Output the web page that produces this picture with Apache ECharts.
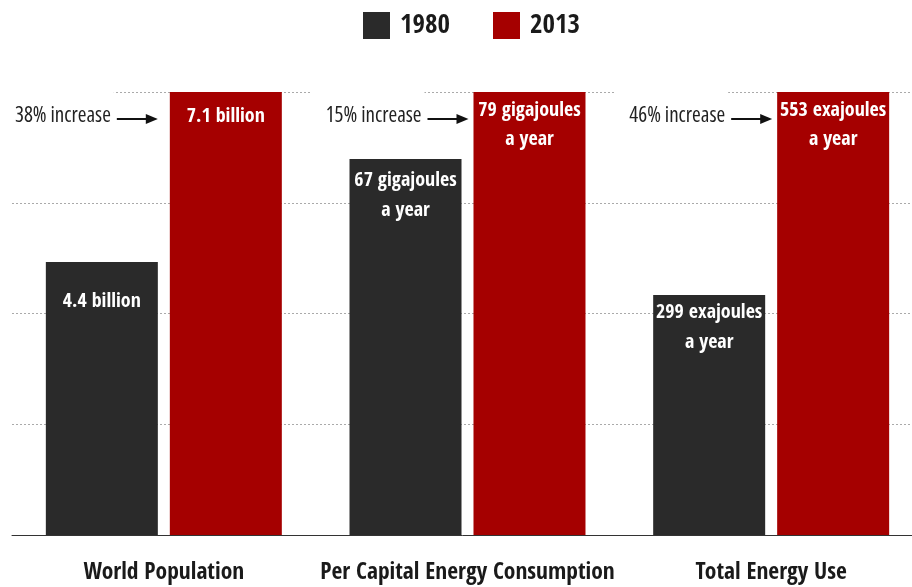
<!DOCTYPE html>
<html><head><meta charset="utf-8">
<script src="https://cdn.jsdelivr.net/npm/echarts@6/dist/echarts.min.js"></script>
<style>html,body{margin:0;padding:0;background:#fff}#c{width:912px;height:587px}</style>
</head><body><div id="c"></div>
<script>
const categories = ['World Population', 'Per Capital Energy Consumption', 'Total Energy Use'];
const seriesNames = ['1980', '2013'];
// bar heights relative to the 2013 value (2013 = 100)
const values1980 = [61.6, 84.9, 54.2];
const values2013 = [100, 100, 100];
const labels1980 = ['4.4 billion', '67 gigajoules\na year', '299 exajoules\na year'];
const labels2013 = ['7.1 billion', '79 gigajoules\na year', '553 exajoules\na year'];
const increases = ['38% increase', '15% increase', '46% increase'];
const yTicks = [0, 25, 50, 75, 100];

const FONT = '"Open Sans Condensed", "Roboto Condensed", sans-serif';
const BLACK = '#2a2a2a', RED = '#a50000';
const dist1980 = [25, 7, 3], dist2013 = [10, 4, 4];
const arrowGap = [12, 5, 5];

const chart = echarts.init(document.getElementById('c'), null, {renderer: 'canvas'});

function mkData(vals, labs, dist) {
  return vals.map((v, i) => ({value: v, label: {formatter: labs[i], distance: dist[i]}}));
}

chart.setOption({
  animation: false,
  legend: {
    data: seriesNames, left: 363, top: 12, padding: 0, itemWidth: 27, itemHeight: 27, itemGap: 43, icon: 'rect',
    textStyle: {fontFamily: FONT, fontWeight: 'bold', fontSize: 27, color: '#1a1a1a', padding: [4, 0, 0, 5]}
  },
  grid: {left: 12, top: 92, width: 911, bottom: 52, containLabel: false, outerBoundsMode: 'none'},
  xAxis: {
    type: 'category', data: categories,
    axisLine: {show: true, lineStyle: {color: '#333', width: 1}},
    axisTick: {show: false},
    axisLabel: {interval: 0, margin: 26, fontFamily: FONT, fontWeight: 'bold', fontSize: 23.5, color: '#1a1a1a'}
  },
  yAxis: {
    type: 'value', min: yTicks[0], max: yTicks[yTicks.length - 1], interval: yTicks[1] - yTicks[0],
    axisLine: {show: false}, axisTick: {show: false}, axisLabel: {show: false},
    splitLine: {show: true, lineStyle: {color: '#aaa', type: [2, 2], width: 1}}
  },
  series: [
    {
      name: seriesNames[0], type: 'bar', barWidth: 112, barGap: '10.7%',
      itemStyle: {color: BLACK},
      label: {show: true, position: 'insideTop', color: '#fff', fontFamily: FONT, fontWeight: 'bold', fontSize: 20, lineHeight: 30},
      data: mkData(values1980, labels1980, dist1980)
    },
    {
      name: seriesNames[1], type: 'bar', barWidth: 112,
      itemStyle: {color: RED},
      label: {show: true, position: 'insideTop', color: '#fff', fontFamily: FONT, fontWeight: 'bold', fontSize: 20, lineHeight: 29},
      data: mkData(values2013, labels2013, dist2013)
    }
  ]
});

// annotations: "xx% increase ->" pointing at each 2013 bar, placed from the library's bar layout
const redData = chart.getModel().getSeriesByIndex(1).getData();
const elements = [];
increases.forEach((txt, i) => {
  const lay = redData.getItemLayout(i);
  const top = Math.min(lay.y, lay.y + lay.height);
  const tip = lay.x - arrowGap[i];
  const start = tip - 41;
  const y = top + 27;
  elements.push({
    type: 'text', z: 100,
    style: {
      text: txt, x: start - 3, y: y - 3, align: 'right', verticalAlign: 'middle',
      font: 'condensed 21px "Open Sans", sans-serif', fill: '#222',
      backgroundColor: '#fff', padding: [16, 3, 12, 14]
    }
  });
  elements.push({type: 'line', z: 101, shape: {x1: start, y1: y, x2: tip - 9, y2: y}, style: {stroke: '#111', lineWidth: 2}});
  elements.push({type: 'polygon', z: 101, shape: {points: [[tip, y], [tip - 12, y - 5], [tip - 12, y + 5]]}, style: {fill: '#111'}});
});
chart.setOption({graphic: {elements: elements}});
</script>
</body></html>
